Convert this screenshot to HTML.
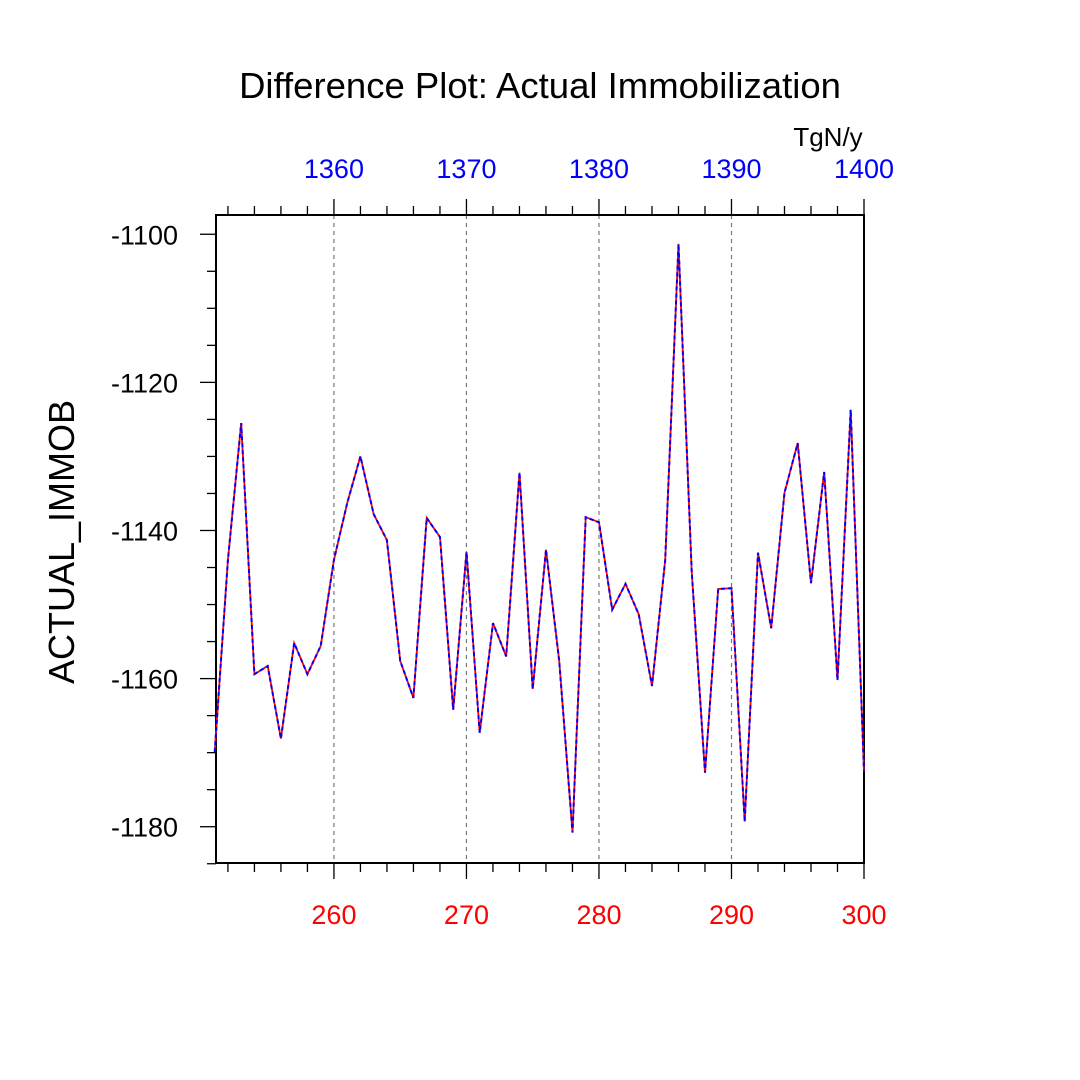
<!DOCTYPE html>
<html><head><meta charset="utf-8"><style>
html,body{margin:0;padding:0;background:#fff;}
svg{display:block;font-family:"Liberation Sans",Arial,sans-serif;}
</style></head><body>
<svg id="chart" width="1080" height="1080" viewBox="0 0 1080 1080" xmlns="http://www.w3.org/2000/svg">
<rect width="1080" height="1080" fill="#fff"/>
<text x="540" y="98" font-size="36.5" text-anchor="middle">Difference Plot: Actual Immobilization</text>
<text x="828" y="146" font-size="26" text-anchor="middle">TgN/y</text>
<text transform="translate(74,542) rotate(-90)" font-size="36" text-anchor="middle">ACTUAL_IMMOB</text>
<g id="grid"></g><g id="axes"></g><g id="series"></g>
</svg>
<script>
const years = [251,252,253,254,255,256,257,258,259,260,261,262,263,264,265,266,267,268,269,270,271,272,273,274,275,276,277,278,279,280,281,282,283,284,285,286,287,288,289,290,291,292,293,294,295,296,297,298,299,300];
const values = [-1169.9,-1144,-1125.5,-1159.4,-1158.3,-1168.1,-1155.2,-1159.4,-1155.6,-1144,-1136.3,-1130,-1137.8,-1141.3,-1157.6,-1162.6,-1138.3,-1140.9,-1164.2,-1142.9,-1167.3,-1152.5,-1157,-1132.2,-1161.4,-1142.6,-1157.6,-1180.8,-1138.2,-1138.9,-1150.7,-1147.2,-1151.3,-1161,-1144,-1101.3,-1145.5,-1172.7,-1147.9,-1147.8,-1179.3,-1143,-1153.2,-1134.9,-1128.2,-1147.1,-1132.1,-1160.2,-1123.7,-1172.6];
const bottomTicks = [260,270,280,290,300];
const topTickLabels = ["1360","1370","1380","1390","1400"];
const yTicks = [-1100,-1120,-1140,-1160,-1180];
const gridTicks = [260,270,280,290];

const X0=216,X1=864,Y0=215,Y1=863;
const xMin=251.1,xMax=300,yMax=-1097.4,yMin=-1184.9;
const sx=v=>X0+(v-xMin)/(xMax-xMin)*(X1-X0);
const sy=v=>Y0+(yMax-v)/(yMax-yMin)*(Y1-Y0);
const NS="http://www.w3.org/2000/svg";
function mk(tag,attrs,parent){const e=document.createElementNS(NS,tag);for(const k in attrs)e.setAttribute(k,attrs[k]);parent.appendChild(e);return e;}
const grid=document.getElementById('grid'),axes=document.getElementById('axes'),series=document.getElementById('series');
gridTicks.forEach(t=>{const l=mk('line',{x1:sx(t),x2:sx(t),y1:Y0,y2:Y1,stroke:'#777','stroke-width':1.2,'stroke-dasharray':'4,4'},grid);

});
const fr=mk('rect',{x:X0,y:Y0,width:X1-X0,height:Y1-Y0,fill:'none',stroke:'#000','stroke-width':2},axes);


for(let t=252;t<=300;t+=2){const x=sx(t);const major=t%10===0;const L=major?16:9;
mk('line',{x1:x,x2:x,y1:Y1,y2:Y1+L,stroke:'#000','stroke-width':1.3},axes);
mk('line',{x1:x,x2:x,y1:Y0,y2:Y0-L,stroke:'#000','stroke-width':1.3},axes);}
for(let v=-1185;v<=-1100;v+=5){const y=sy(v);const major=v%20===0;const L=major?16:9;
mk('line',{x1:X0,x2:X0-L,y1:y,y2:y,stroke:'#000','stroke-width':1.3},axes);}
bottomTicks.forEach((t,i)=>{const tx=mk('text',{x:sx(t),y:Y1+61,'font-size':27,fill:'#f00','text-anchor':'middle'},axes);tx.textContent=t;


const tt=mk('text',{x:sx(t),y:Y0-37,'font-size':27,fill:'#00f','text-anchor':'middle'},axes);tt.textContent=topTickLabels[i];

});
yTicks.forEach(v=>{const tx=mk('text',{x:X0-38,y:sy(v)+10,'font-size':27,'text-anchor':'end'},axes);tx.textContent=v;

});
const pts=years.map((y,i)=>sx(y).toFixed(1)+','+sy(values[i]).toFixed(1)).join(' ');
const r=mk('polyline',{points:pts,fill:'none',stroke:'#f00','stroke-width':1.8},series);


const b=mk('polyline',{points:pts,fill:'none',stroke:'#00f','stroke-width':2,'stroke-dasharray':'4,3'},series);


</script>
</body></html>
